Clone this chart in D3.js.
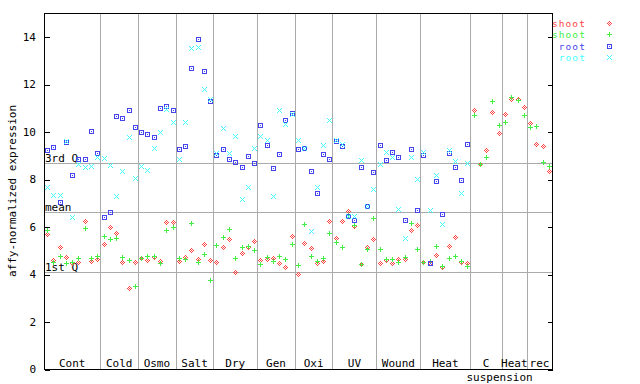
<!DOCTYPE html>
<html><head><meta charset="utf-8">
<script src="https://cdn.jsdelivr.net/npm/d3@7"></script>
<style>
html,body{margin:0;padding:0;background:#fff;}
svg{display:block;}
text{font-family:"DejaVu Sans Mono",monospace;font-size:11px;}
text.leg{font-size:9.5px;letter-spacing:1.1px;}
</style></head>
<body>
<svg id="chart" width="640" height="384"></svg>
<script>
const groups = ["Cont","Cold","Osmo","Salt","Dry","Gen","Oxi","UV","Wound","Heat","C suspension","Heat","rec"];
const groupSizes = [9,6,6,6,7,6,6,7,7,8,5,4,4];
const yTicks = [0,2,4,6,8,10,12,14];
const refNames = ["3rd Q","mean","1st Q"];
const refValues = [8.67,6.61,4.08];
const seriesNames = ["shoot","shoot","root","root"];
const seriesColors = ["#ff4444","#44ee44","#4444ee","#44ffff"];

const shoot1 = [5.69,4.60,5.13,4.71,4.45,4.51,6.24,4.55,4.62,
  5.26,5.98,5.74,4.51,3.40,4.51,
  4.67,4.60,4.70,4.54,6.19,6.19,
  4.54,4.71,5.01,4.63,5.26,4.58,
  4.50,5.13,5.47,4.08,4.88,5.13,5.39,
  4.58,4.63,4.67,4.46,4.29,5.60,
  3.99,5.30,5.09,4.46,4.54,6.23,
  5.51,6.23,6.65,6.02,4.42,5.13,5.47,
  4.46,4.58,4.46,4.63,4.63,5.85,6.06,
  4.50,4.46,4.80,4.29,5.18,5.55,4.50,4.46,
  10.91,8.63,9.22,10.83,9.94,
  10.74,11.37,11.37,11.04,
  10.38,9.48,9.39,8.34];
const shoot2 = [5.85,4.51,4.75,4.46,4.50,4.67,5.93,4.67,4.75,
  5.60,5.47,5.51,4.71,4.60,3.49,
  4.67,4.75,4.75,4.46,5.85,5.98,
  4.67,4.63,6.14,4.50,4.84,3.74,
  5.22,5.55,5.89,4.67,5.13,5.18,5.01,
  4.42,4.71,4.54,4.75,4.63,5.26,
  4.37,6.10,4.75,4.54,4.67,5.72,
  5.34,5.13,6.50,6.06,4.42,5.05,6.36,
  5.05,4.63,4.63,4.50,4.71,6.14,5.05,
  4.50,4.54,5.18,4.33,4.67,4.75,4.54,4.33,
  10.70,8.63,8.93,11.29,10.28,
  10.40,11.46,11.33,10.70,
  10.19,10.24,8.72,8.55];
const root1 = [9.22,9.35,7.03,9.57,8.17,8.84,8.84,10.02,9.10,
  6.40,6.61,10.66,10.57,10.91,10.19,
  9.98,9.90,9.77,11.00,11.08,10.91,
  9.27,9.39,12.68,13.90,12.56,11.29,
  9.01,9.27,8.84,8.72,8.51,8.97,8.68,
  10.28,9.43,8.46,9.06,10.49,10.78,
  9.27,9.31,8.34,7.41,9.06,8.84,
  9.59,9.39,6.44,6.27,8.51,6.86,8.29,
  9.43,8.80,9.14,8.93,6.27,9.27,6.69,
  9.01,4.46,7.92,6.52,9.10,8.51,7.96,9.48];
const root2 = [7.66,7.33,7.33,9.62,6.40,8.63,8.51,8.55,8.93,
  8.89,8.59,7.28,8.34,9.77,8.04,
  8.55,8.38,9.31,9.98,10.95,10.40,
  8.84,10.40,13.53,13.57,11.80,11.37,
  9.10,10.15,9.10,9.81,7.16,7.66,9.31,
  9.81,9.65,7.28,10.91,10.32,10.74,
  9.65,9.31,5.81,7.66,9.43,10.49,
  9.65,9.48,6.44,6.44,8.80,6.86,7.58,
  8.63,9.14,8.93,6.74,5.51,8.93,8.00,
  9.14,6.69,8.17,6.10,9.22,8.76,7.41,8.68];

const svg = d3.select("#chart");
const L = 44, R = 552, T = 13, B = 369;
const nSamples = d3.sum(groupSizes);
const x = d3.scaleLinear().domain([-0.5, nSamples - 0.5]).range([L, R]);
const y = d3.scaleLinear().domain([0, 15]).range([B, T]);

// pixel marker shapes
function pix(list){ return (cx,cy)=>list.map(([dx,dy])=>`M${cx+dx},${cy+dy}h1v1h-1z`).join(""); }
const offs = {diamond:[],plus:[],square:[],cross:[]};
for(let dx=-2;dx<=2;dx++)for(let dy=-2;dy<=2;dy++){
  const a=Math.abs(dx),b=Math.abs(dy);
  if((a+b===2)||(a===0&&b===0)) offs.diamond.push([dx,dy]);
  if(dx===0||dy===0) offs.plus.push([dx,dy]);
  if(Math.max(a,b)===2||(a===0&&b===0)) offs.square.push([dx,dy]);
  if(a===b) offs.cross.push([dx,dy]);
}
const shapes = [pix(offs.diamond),pix(offs.plus),pix(offs.square),pix(offs.cross)];

// reference lines
const g = svg.append("g");
g.selectAll("line.ref").data(refValues).join("line")
  .attr("x1",L).attr("x2",R)
  .attr("y1",d=>Math.round(y(d))+0.5).attr("y2",d=>Math.round(y(d))+0.5)
  .attr("stroke","#aaaaaa").attr("stroke-width",1).attr("shape-rendering","crispEdges");

// group separators
const bounds = d3.cumsum(groupSizes).slice(0,-1);
g.selectAll("line.sep").data(bounds).join("line")
  .attr("x1",d=>Math.round(x(d-0.5))+0.5).attr("x2",d=>Math.round(x(d-0.5))+0.5)
  .attr("y1",T).attr("y2",B)
  .attr("stroke","#aaaaaa").attr("stroke-width",1).attr("shape-rendering","crispEdges");

// ref labels
g.selectAll("text.ref").data(refValues).join("text")
  .attr("x",L+1).attr("y",d=>Math.round(y(d))-1)
  .attr("fill","#000").text((d,i)=>refNames[i]);

// group labels
const starts = [0, ...bounds];
groups.forEach((name,i)=>{
  const x0 = x(starts[i]-0.5), x1 = x(starts[i]+groupSizes[i]-0.5);
  const parts = name.split(" ");
  if(parts.length===1){
    g.append("text").attr("x",(x0+x1)/2).attr("y",367).attr("text-anchor","middle").text(name);
  } else {
    g.append("text").attr("x",(x0+x1)/2).attr("y",367).attr("text-anchor","middle").text(parts[0]);
    g.append("text").attr("x",x0-4).attr("y",381).attr("text-anchor","start").text(parts[1]);
  }
});

// points
const allSeries = [shoot1, shoot2, root1, root2];
allSeries.forEach((vals,si)=>{
  svg.append("path")
    .attr("d", vals.map((v,i)=> v==null? "" : shapes[si](Math.round(x(i)), Math.round(y(v)))).join(""))
    .attr("fill", seriesColors[si]).attr("shape-rendering","crispEdges");
});

// frame
svg.append("rect").attr("x",L+0.5).attr("y",T+0.5).attr("width",R-L).attr("height",B-T)
  .attr("fill","none").attr("stroke","#000").attr("shape-rendering","crispEdges");

// ticks (inward on both sides)
const yl = svg.append("g").attr("transform",`translate(${L+0.5},0)`)
  .call(d3.axisRight(y).tickValues(yTicks).tickSize(5).tickFormat(""));
yl.select(".domain").remove();
yl.selectAll("line").attr("shape-rendering","crispEdges").attr("transform","translate(0,0.5)");
const yr = svg.append("g").attr("transform",`translate(${R+0.5},0)`)
  .call(d3.axisLeft(y).tickValues(yTicks).tickSize(5).tickFormat(""));
yr.select(".domain").remove();
yr.selectAll("line").attr("shape-rendering","crispEdges").attr("transform","translate(0,0.5)");

// tick labels
svg.append("g").selectAll("text").data(yTicks).join("text")
  .attr("x",36).attr("y",d=>y(d)+4).attr("text-anchor","end").text(d=>d);

// y title
svg.append("text").attr("transform","translate(16,191) rotate(-90)")
  .attr("text-anchor","middle").text("affy-normalized expression");

// legend
const lg = svg.append("g");
seriesNames.forEach((n,i)=>{
  const ly = 27 + i*11.3;
  lg.append("text").attr("class","leg").attr("x",586).attr("y",ly).attr("text-anchor","end")
    .attr("fill",seriesColors[i]).text(n);
  lg.append("path").attr("d",shapes[i](609, Math.round(ly-4)))
    .attr("fill",seriesColors[i]).attr("shape-rendering","crispEdges");
});
</script>
</body></html>
